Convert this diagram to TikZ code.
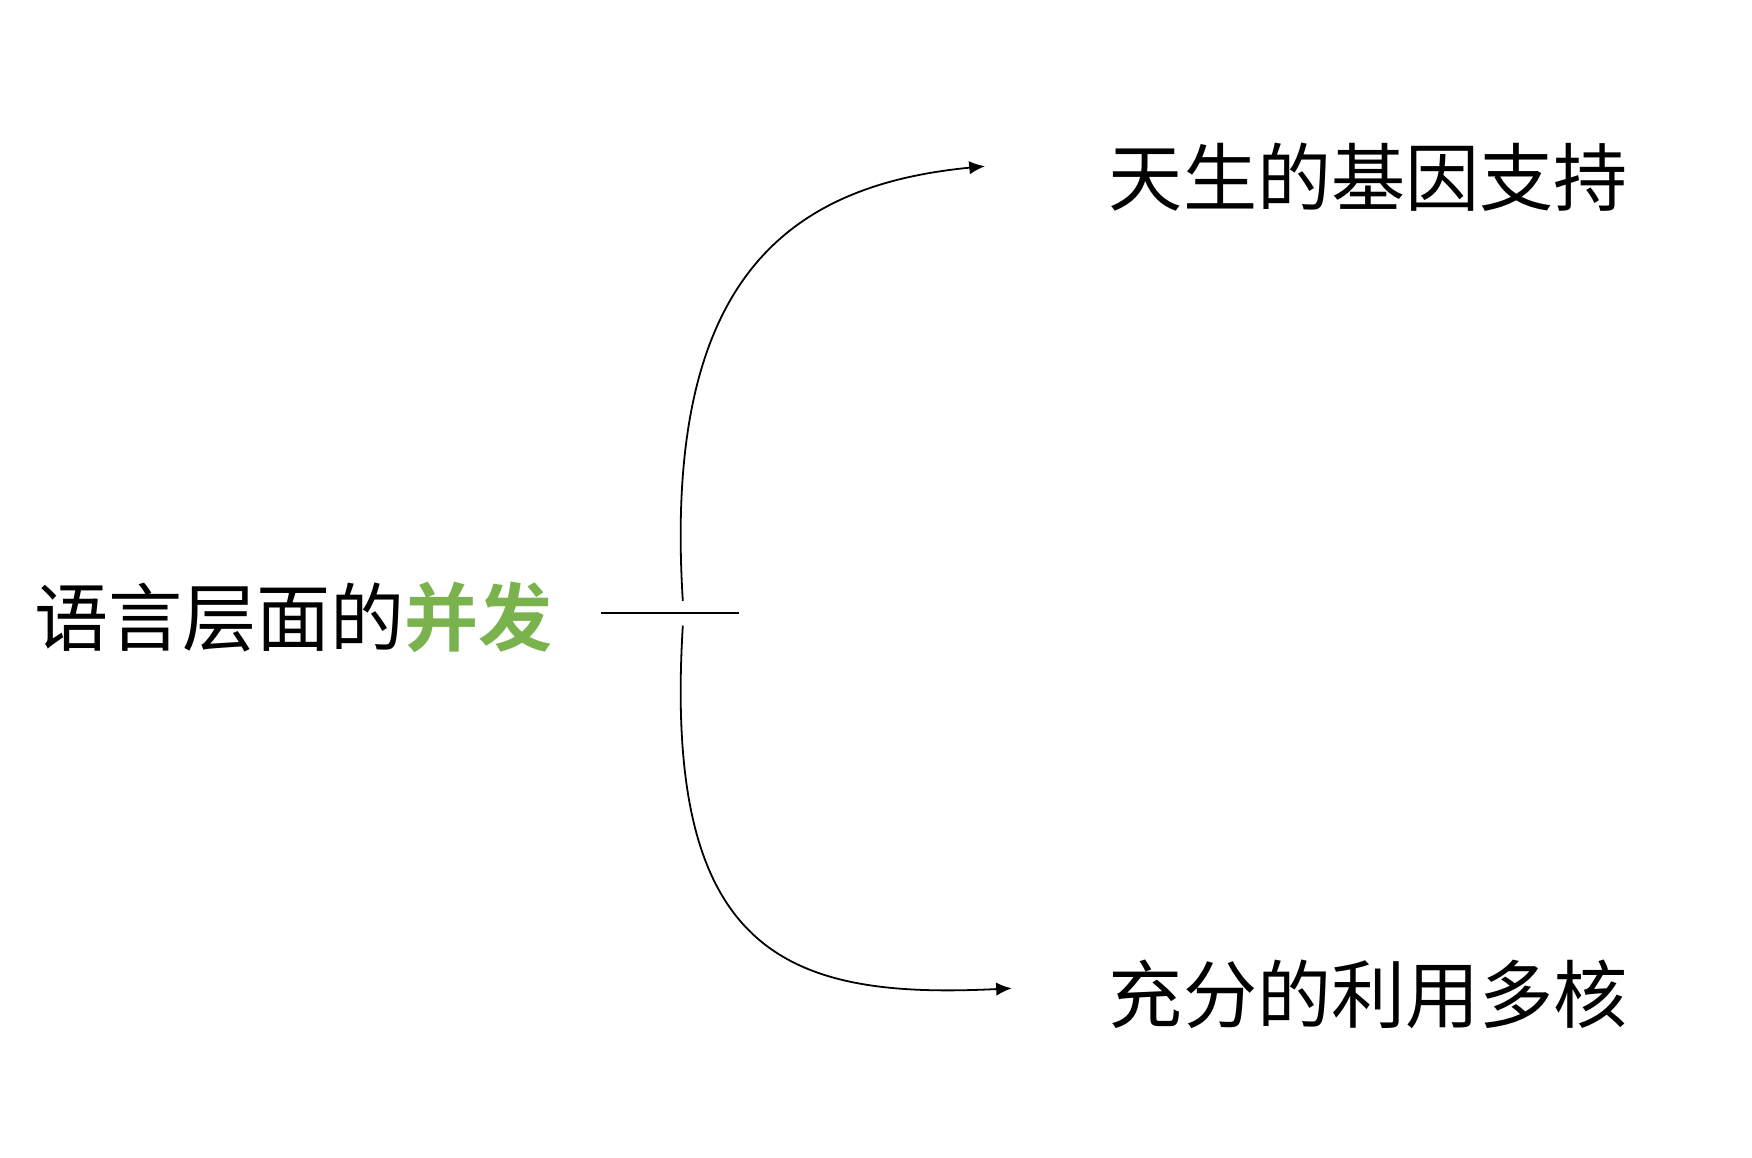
\documentclass[tikz,border=0pt]{standalone}
\usepackage{fontspec}
\setmainfont{Noto Sans CJK SC}
\newfontfamily\boldcjk{Noto Sans CJK SC Bold}
\usetikzlibrary{arrows.meta}
\definecolor{leafgreen}{RGB}{122,178,78}
\begin{document}
\begin{tikzpicture}[x=0.5pt,y=-0.5pt,
    label text/.style={inner sep=0pt, font=\fontsize{33pt}{38pt}\selectfont},
    link/.style={thick, -{Latex[length=7pt,width=6pt]}}]
			\useasboundingbox (0,0) rectangle (1560,1031);
			% Root text and its short bar
			\node[label text, anchor=west] (root) at (30,550) {语言层面的\textcolor{leafgreen}{\boldcjk 并发}};
			\coordinate (barL) at (535,546);
			\coordinate (barR) at (658,546);
			\draw[thick] (barL) -- (barR);
			
			% The two branches
			\node[label text, anchor=west] (top) at (987,158) {天生的基因支持};
			\node[label text, anchor=west] (bottom) at (987,885) {充分的利用多核};
			\coordinate (upStart) at (608,535);
			\coordinate (downStart) at (608,557);
			\draw[link] (upStart) .. controls (590,250) and (700,165) .. ([xshift=-55]top.west |- 0,148);
			\draw[link] (downStart) .. controls (590,850) and (700,890) .. ([xshift=-43]bottom.west |- 0,880);
		\end{tikzpicture}
\end{document}
